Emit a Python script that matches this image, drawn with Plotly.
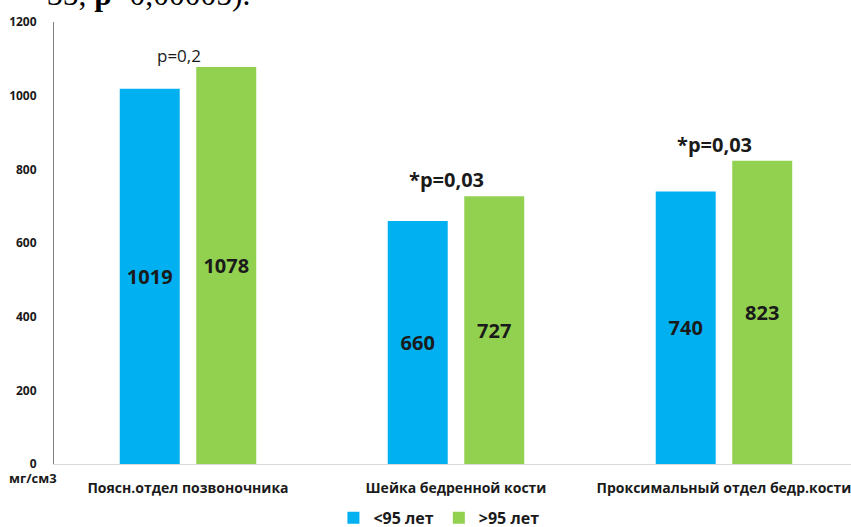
import plotly.graph_objects as go

# Bone mineral density by region and age group
categories = ["Поясн.отдел позвоночника", "Шейка бедренной кости", "Проксимальный отдел бедр.кости"]
under_95 = [1019, 660, 740]
over_95 = [1078, 727, 823]
series_names = ["<95 лет", ">95 лет"]
p_labels = ["p=0,2", "*p=0,03", "*p=0,03"]
y_ticks = [0, 200, 400, 600, 800, 1000, 1200]
unit_label = "мг/см3"
heading_tail = "35, <b>p</b>=0,00005)."

BLUE = "#00B0F0"
GREEN = "#92D050"
FONT = "Open Sans"

fig = go.Figure()
for name, vals, color in [(series_names[0], under_95, BLUE), (series_names[1], over_95, GREEN)]:
    fig.add_trace(go.Bar(
        x=categories, y=vals, name=name,
        marker=dict(color=color, line=dict(width=0)),
        text=[str(v) for v in vals],
        textposition="inside", insidetextanchor="middle",
        textfont=dict(family=FONT, size=20, color="#1a1a1a", weight="bold"),
        texttemplate="<b>%{text}</b>",
        textangle=0,
        hoverinfo="skip",
    ))

# p-value labels above each group
for i, (lab, a, b) in enumerate(zip(p_labels, under_95, over_95)):
    bold = lab.startswith("*")
    fig.add_annotation(
        x=i, y=max(a, b), xref="x", yref="y",
        text=f"<b>{lab}</b>" if bold else lab,
        showarrow=False, yanchor="bottom",
        xshift=-9, yshift=1 if bold else -2,
        font=dict(family=FONT, size=20 if bold else 17, color="#1a1a1a"),
    )

fig.add_annotation(
    x=-0.0263, y=-0.0317, xref="paper", yref="paper", text=f"<b>{unit_label}</b>",
    showarrow=False, xanchor="center", yanchor="middle",
    font=dict(family=FONT, size=13, color="#1a1a1a"),
)

fig.update_layout(
    width=851, height=527,
    margin=dict(l=54, r=0, t=22, b=63, autoexpand=False),
    paper_bgcolor="white", plot_bgcolor="white",
    barmode="group", bargap=0.429, bargroupgap=0.216,
    showlegend=True,
    legend=dict(
        orientation="h", x=0.483, xanchor="center", y=-0.122, yanchor="middle",
        font=dict(family=FONT, size=16, color="#1a1a1a", weight="bold"),
        itemwidth=30, traceorder="normal",
    ),
    xaxis=dict(
        range=[-0.5, 2.474], showgrid=False, zeroline=False,
        showline=True, linecolor="#d9d9d9", linewidth=1,
        ticks="", ticklabelstandoff=11,
        tickfont=dict(family=FONT, size=14, color="#1a1a1a", weight="bold"),
    ),
    yaxis=dict(
        range=[0, 1200], tickvals=y_ticks, showgrid=False, zeroline=False,
        showline=True, linecolor="#7f7f7f", linewidth=1,
        ticks="", ticklabelstandoff=14,
        tickfont=dict(family=FONT, size=12, color="#1a1a1a", weight="bold"),
    ),
)

# Heading text carried over from the slide above the chart
fig.add_annotation(
    x=0.2484, y=1.0, xref="paper", yref="paper", xanchor="right", yanchor="middle",
    text=heading_tail, showarrow=False, yshift=28,
    font=dict(family="Liberation Serif", size=31.5, color="black"),
)

fig.write_html("out.html")
